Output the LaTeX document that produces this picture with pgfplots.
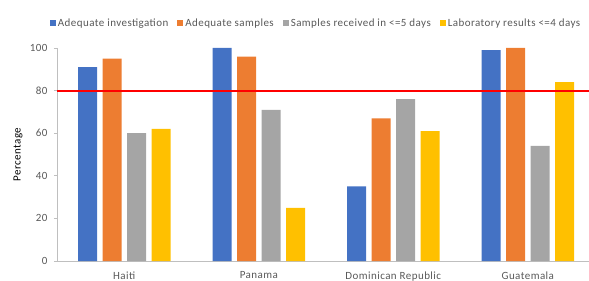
\documentclass[border=0pt]{standalone}
\usepackage{pgfplots}
\pgfplotsset{compat=1.18}
\usepackage{fontspec}
\setmainfont{Carlito}[LetterSpace=4]
\definecolor{cblue}{HTML}{4472C4}
\definecolor{corange}{HTML}{ED7D31}
\definecolor{cgray}{HTML}{A5A5A5}
\definecolor{cyellow}{HTML}{FFC000}
\definecolor{txt}{HTML}{595959}
\definecolor{axgray}{HTML}{BFBFBF}
\begin{document}
\begin{tikzpicture}
\path[use as bounding box] (-57pt,-20pt) rectangle (532pt,261pt);
\begin{axis}[
  scale only axis,
  width=532pt, height=213pt,
  xmin=-0.5, xmax=3.455,
  ymin=0, ymax=100,
  ybar=5.5pt,
  bar width=19pt,
  font=\fontsize{11}{13}\selectfont,
  /pgf/number format/assume math mode=true,
  axis x line*=bottom, axis y line*=left,
  axis line style={axgray, line width=0.8pt},
  xtick={0,1,2,3},
  xticklabels={Haiti,Panama,Dominican Republic,Guatemala},
  major x tick style={draw=none},
  extra x ticks={0.5,1.5,2.5},
  extra x tick labels={},
  extra x tick style={major tick length=4pt, tick align=outside, tick style={draw=axgray, line width=0.8pt}},
  ytick={0,20,40,60,80,100},
  tick align=outside,
  major tick length=3pt,
  y tick style={axgray, line width=0.8pt},
  ticklabel style={text=txt},
  xticklabel style={yshift=-4pt},
  yticklabel style={xshift=-3pt},
  ylabel={Percentage},
  ylabel style={at={(axis description cs:-0.073,0.5)}, rotate=0, anchor=center, text=black},
  legend columns=-1,
  legend style={draw=none, at={(0.487,1.117)}, anchor=center, text=txt,
    /tikz/every even column/.append style={column sep=7pt},
    font=\fontsize{11}{13}\selectfont},
  legend image code/.code={\fill[#1] (0pt,-3pt) rectangle (6pt,3pt);},
]
\addplot[fill=cblue, draw=none] coordinates {(0,91) (1,100) (2,35) (3,99)};
\addplot[fill=corange, draw=none] coordinates {(0,95) (1,96) (2,67) (3,100)};
\addplot[fill=cgray, draw=none] coordinates {(0,60) (1,71) (2,76) (3,54)};
\addplot[fill=cyellow, draw=none] coordinates {(0,62) (1,25) (2,61) (3,84)};
\legend{Adequate investigation, Adequate samples, Samples received in <=5 days, Laboratory results <=4 days}
\addplot[draw=red, line width=2pt, sharp plot, forget plot, fill=none] coordinates {(-0.5,80) (3.455,80)};
\end{axis}
\end{tikzpicture}
\end{document}
